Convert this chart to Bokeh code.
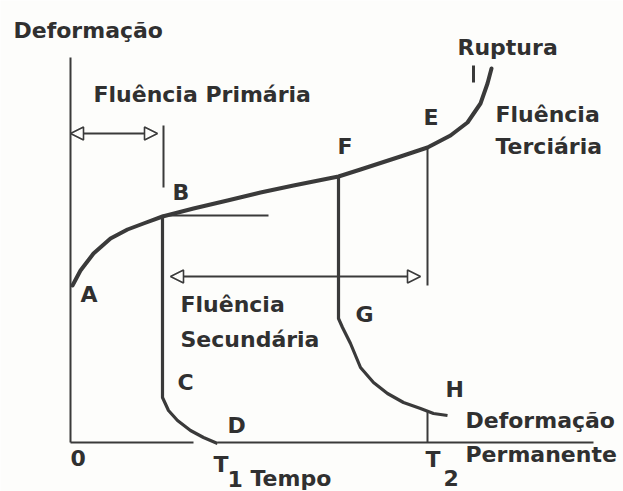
from bokeh.plotting import figure
from bokeh.models import ColumnDataSource, Range1d, Arrow, NormalHead
from bokeh.core.properties import value
from bokeh.embed import file_html
from bokeh.resources import INLINE

# Creep curve (time vs. strain), schematic units
creep_t = [2, 10, 23, 40, 57, 73, 92, 123, 157, 190, 223, 268, 290, 330, 357, 380, 397, 410, 417, 421]
creep_strain = [157, 172, 189, 204, 213, 219, 226, 234, 242, 250, 257, 266, 273, 286, 295, 307, 320, 339, 359, 374]

# Unloading at B (time T1): elastic drop B-C, then recovery C-D
unload1_t = [92, 92, 98, 107, 120, 133, 147]
unload1_strain = [226, 45, 32, 22, 12, 5, -1]

# Unloading at F: drop F-G, then recovery G-H down to the permanent strain
unload2_t = [268, 268, 272, 280, 290, 303, 317, 333, 350, 363, 377]
unload2_strain = [266, 124, 115, 99, 75, 60, 49, 40, 34, 29, 27]

# Time marks
t1 = 92
t2 = 357
t_axis_end = 523
strain_axis_top = 385

# Stage boundaries shown by the double arrows
primary_range = [0, 87]
primary_level = 309
secondary_range = [100, 350]
secondary_level = 166

labels = ["Deformação", "Fluência Primária", "B", "Ruptura", "E", "F",
          "Fluência", "Terciária", "A", "Fluência", "Secundária", "C", "D",
          "0", "T", "1", "Tempo", "G", "H", "Deformação", "Permanente", "T", "2"]
label_t = [-57, 23, 102, 387, 353, 267, 425, 425, 10, 110, 110, 107, 157,
           0, 143, 157, 180, 285, 375, 395, 395, 355, 373]
label_strain = [412, 348, 250, 395, 325, 296, 328, 296, 148, 138, 103, 60, 17,
                -15, -22, -36, -36, 128, 53, 22, -12, -17, -35]

INK = "#3a3a3a"
PAPER = "#fdfdfb"

p = figure(width=623, height=491, output_backend="svg", toolbar_location=None,
           x_range=Range1d(-70, 553), y_range=Range1d(-49, 442),
           x_axis_type=None, y_axis_type=None, min_border=0,
           background_fill_color=PAPER, border_fill_color=PAPER)
p.min_border_left = p.min_border_right = p.min_border_top = p.min_border_bottom = 0
p.outline_line_color = None
p.grid.visible = False

# Axes
p.line([0, 0], [0, strain_axis_top], line_color=INK, line_width=2)
p.line([0, 123], [0, 0], line_color=INK, line_width=2)
p.line([147, t_axis_end], [0, 0], line_color=INK, line_width=2)

# Curves
p.line(creep_t, creep_strain, line_color=INK, line_width=4, line_join="round", line_cap="round")
p.line(unload1_t, unload1_strain, line_color=INK, line_width=3.2, line_join="round")
p.line(unload2_t, unload2_strain, line_color=INK, line_width=3.2, line_join="round")

# Tangent at B and guide lines at E / T2
p.line([t1, t1 + 106], [227, 227], line_color=INK, line_width=2)
p.line([t2, t2], [295, 157], line_color=INK, line_width=2)
p.line([t2, t2], [31, 0], line_color=INK, line_width=2)
p.line([t1 + 1, t1 + 1], [317, 255], line_color=INK, line_width=2)

# Rupture mark
p.line([403, 403], [377, 360], line_color=INK, line_width=3)

# Stage arrows
for (a, b), lvl in [(primary_range, primary_level), (secondary_range, secondary_level)]:
    p.add_layout(Arrow(
        x_start=a, y_start=lvl, x_end=b, y_end=lvl,
        line_color=INK, line_width=1.8,
        start=NormalHead(size=13, fill_color=PAPER, line_color=INK, line_width=1.6),
        end=NormalHead(size=13, fill_color=PAPER, line_color=INK, line_width=1.6)))

src = ColumnDataSource(dict(x=label_t, y=label_strain, text=labels))
p.text(x="x", y="y", text="text", source=src, text_font=value("DejaVu Sans"),
       text_font_style="bold", text_font_size="22px", text_color="#303030",
       text_align="left", text_baseline="alphabetic")

open("out.html", "w").write(file_html(p, INLINE))
